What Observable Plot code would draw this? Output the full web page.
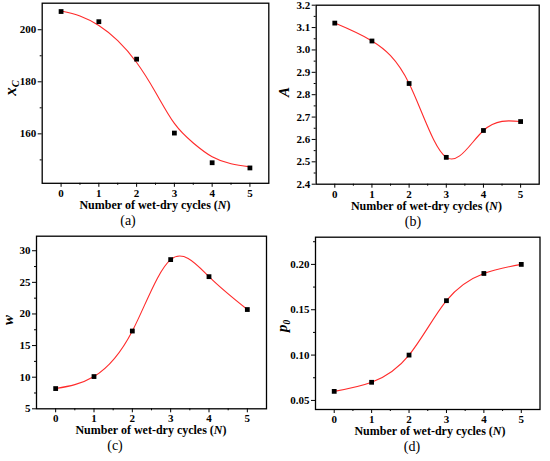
<!DOCTYPE html>
<html>
<head>
<meta charset="utf-8">
<script src="https://cdn.jsdelivr.net/npm/d3@7"></script>
<script src="https://cdn.jsdelivr.net/npm/@observablehq/plot@0.6"></script>
<style>
  html, body { margin: 0; padding: 0; background: #fff; }
  #root { position: relative; width: 550px; height: 461px; background: #fff; overflow: hidden; }
  .panel { position: absolute; }
  .cap { position: absolute; font-family: "Liberation Serif", "Times New Roman", serif; font-size: 14px; color: #000; white-space: nowrap; transform: translateX(-50%); }
</style>
</head>
<body>
<div id="root"></div>
<script>
// ---- data ----
const cycles = [0, 1, 2, 3, 4, 5];
const xcValues = [207.0, 203.1, 188.7, 160.3, 148.9, 146.9];
const aValues = [3.12, 3.04, 2.85, 2.52, 2.64, 2.68];
const wValues = [8.2, 10.1, 17.3, 28.6, 25.9, 20.7];
const p0Values = [0.06, 0.07, 0.10, 0.16, 0.19, 0.20];
// fitted (sigmoid) curve of panel (a)
const xcFitX = [0, 0.5, 1, 1.5, 2, 2.5, 3, 3.5, 4, 4.5, 5];
const xcFitY = [207.2, 205.3, 201.6, 195.8, 187.4, 176.0, 164.0, 156.5, 151.2, 148.5, 147.3];

const xTicks = [0, 1, 2, 3, 4, 5];
const xMinor = [0.5, 1.5, 2.5, 3.5, 4.5];
const xTitle = "Number of wet-dry cycles (";

const FONT = "'Liberation Serif', 'Times New Roman', serif";
const RED = "#ff2a2a";

const root = document.getElementById("root");

function panel(cfg) {
  const pts = cycles.map((c, i) => ({x: c, y: cfg.values[i]}));
  const curve = cfg.fitX ? cfg.fitX.map((c, i) => ({x: c, y: cfg.fitY[i]})) : pts;
  const H = 214;
  const svg = Plot.plot({
    width: 275,
    height: H,
    marginLeft: cfg.L,
    marginRight: 275 - cfg.R,
    marginTop: cfg.T,
    marginBottom: H - cfg.B,
    style: {fontFamily: FONT, fontSize: "11px", fontWeight: "bold", color: "#000", background: "transparent", overflow: "visible"},
    x: {domain: [-0.5, 5.5]},
    y: {domain: cfg.ydomain},
    marks: [
      Plot.axisX(xTicks, {tickSize: 4, tickPadding: 1.5, tickFormat: d => String(d), label: null}),
      Plot.axisX(xMinor, {tickSize: 2, fill: "none", label: null}),
      Plot.axisY(cfg.yticks, {tickSize: 4, tickPadding: 2, tickFormat: cfg.yfmt, label: null}),
      Plot.axisY(cfg.yminor, {tickSize: 2, fill: "none", label: null}),
      Plot.line(curve, {x: "x", y: "y", curve: "natural", stroke: RED, strokeWidth: 1.1}),
      Plot.dot(pts, {x: "x", y: "y", symbol: "square", fill: "#000", r: 2.7}),
      Plot.frame({stroke: "#000", strokeWidth: 1.3})
    ]
  });
  svg.classList.add("panel");
  svg.style.left = cfg.left + "px";
  svg.style.top = cfg.top + "px";
  const s = d3.select(svg);
  // x axis title with italic N
  const xt = s.append("text")
    .attr("x", cfg.titleX)
    .attr("y", cfg.B + 26)
    .attr("text-anchor", "middle")
    .attr("font-family", FONT)
    .attr("font-size", "12px")
    .attr("font-weight", "bold")
    .attr("fill", "#000");
  xt.append("tspan").text(xTitle);
  xt.append("tspan").attr("font-style", "italic").text("N");
  xt.append("tspan").text(")");
  // y axis title
  const yt = s.append("text")
    .attr("transform", `translate(${cfg.ylabX},${cfg.ylabY}) rotate(-90)`)
    .attr("text-anchor", "middle")
    .attr("font-family", FONT)
    .attr("font-size", cfg.ylabSize + "px")
    .attr("font-style", "italic")
    .attr("font-weight", "bold")
    .attr("fill", "#000");
  yt.append("tspan").text(cfg.ylab);
  if (cfg.ysub) {
    yt.append("tspan").attr("font-size", (cfg.ylabSize * 0.62) + "px").attr("dy", "0.3em").text(cfg.ysub);
  }
  root.appendChild(svg);
  const cap = document.createElement("div");
  cap.className = "cap";
  cap.textContent = cfg.caption;
  cap.style.left = (cfg.left + cfg.capX) + "px";
  cap.style.top = (cfg.top + cfg.B + 30) + "px";
  root.appendChild(cap);
}

panel({
  values: xcValues, fitX: xcFitX, fitY: xcFitY,
  left: 0, top: 0, L: 41.7, R: 268.3, T: 2.7, B: 182.8,
  ydomain: [141, 210.2], yticks: [160, 180, 200], yminor: [150, 170, 190],
  yfmt: d => String(d),
  ylab: "x", ysub: "C", ylabSize: 17, ylabX: 16, ylabY: 88,
  titleX: 155, caption: "(a)", capX: 128
});
panel({
  values: aValues,
  left: 275, top: 0, L: 40.7, R: 263.7, T: 4.7, B: 183.7,
  ydomain: [2.4, 3.2], yticks: [2.4, 2.5, 2.6, 2.7, 2.8, 2.9, 3.0, 3.1, 3.2],
  yminor: [2.45, 2.55, 2.65, 2.75, 2.85, 2.95, 3.05, 3.15],
  yfmt: d => d.toFixed(1),
  ylab: "A", ylabSize: 15, ylabX: 14, ylabY: 92,
  titleX: 151.5, caption: "(b)", capX: 138
});
panel({
  values: wValues,
  left: 0, top: 230, L: 36, R: 266, T: 5.7, B: 178.3,
  ydomain: [5, 32.3], yticks: [5, 10, 15, 20, 25, 30],
  yminor: [7.5, 12.5, 17.5, 22.5, 27.5],
  yfmt: d => String(d),
  ylab: "w", ylabSize: 15, ylabX: 13, ylabY: 90,
  titleX: 151, caption: "(c)", capX: 115
});
panel({
  values: p0Values,
  left: 275, top: 230, L: 40, R: 264.5, T: 6.7, B: 179,
  ydomain: [0.04, 0.23], yticks: [0.05, 0.10, 0.15, 0.20],
  yminor: [0.075, 0.125, 0.175, 0.225],
  yfmt: d => d.toFixed(2),
  ylab: "p", ysub: "0", ylabSize: 15, ylabX: 12, ylabY: 96,
  titleX: 155, caption: "(d)", capX: 137
});
</script>
</body>
</html>
